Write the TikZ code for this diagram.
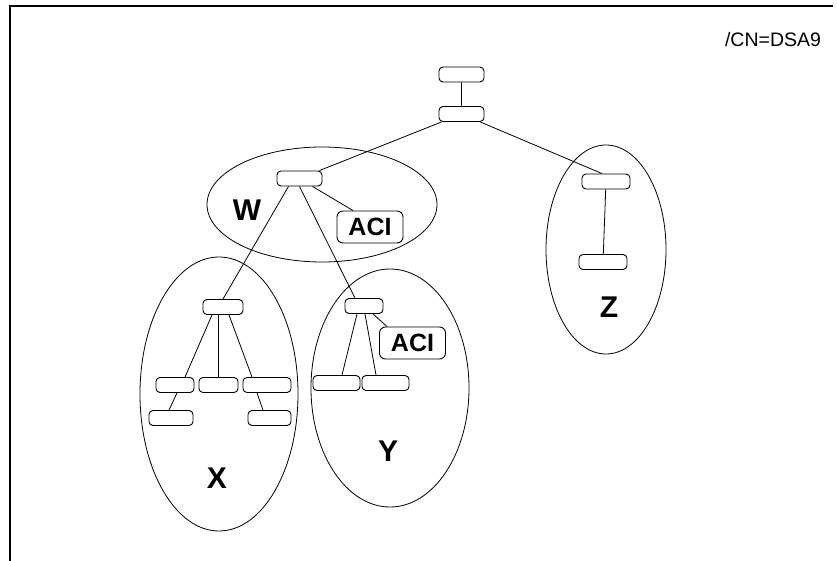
\documentclass[tikz,border=0pt]{standalone}
\usepackage{fontspec}
\setmainfont{Liberation Sans}
\usetikzlibrary{shapes.geometric}
\tikzset{entry/.style={draw,rounded corners=4pt,minimum height=15pt,inner sep=0pt,line width=0.9pt},
  aci/.style={draw,rounded corners=6pt,minimum width=66pt,minimum height=32pt,inner sep=0pt,line width=0.9pt,font=\fontsize{25}{25}\selectfont\bfseries},
  group/.style={draw,ellipse,inner sep=0pt,line width=0.8pt},
  grouplabel/.style={inner sep=0pt,font=\fontsize{30}{30}\selectfont\bfseries},
  link/.style={line width=0.8pt}}

\begin{document}
\begin{tikzpicture}[x=1pt,y=-1pt]
        \useasboundingbox (0,0) rectangle (837,561);
        \draw[line width=2pt] (10,561) -- (10,6) -- (833,6);
        \node[font=\fontsize{19.5}{20}\selectfont,inner sep=0pt] (cn) at (773,40) {/CN=DSA9};
        % naming contexts
        \node[group, minimum width=230pt, minimum height=115pt] (gw) at (322,204.5) {};
        \node[group, minimum width=158pt, minimum height=274pt] (gx) at (219,394) {};
        \node[group, minimum width=158pt, minimum height=238pt] (gy) at (390,388) {};
        \node[group, minimum width=120pt, minimum height=209pt] (gz) at (606,249.5) {};
        \node[grouplabel] (lw) at (247,210) {W};
        \node[grouplabel] (lx) at (217,478) {X};
        \node[grouplabel] (ly) at (388,451) {Y};
        \node[grouplabel] (lz) at (609,307) {Z};
        % entries
        \node[entry, minimum width=45pt] (n1) at (461.5,74.5) {};
        \node[entry, minimum width=45pt] (n2) at (461.5,114) {};
        \node[entry, minimum width=45pt] (wr) at (299.5,178.5) {};
        \node[aci] (aciw) at (370,227) {ACI};
        \node[entry, minimum width=48pt] (z1) at (606,181.5) {};
        \node[entry, minimum width=48pt] (z2) at (603,262) {};
        \node[entry, minimum width=40pt] (xr) at (223,307) {};
        \node[entry, minimum width=38pt] (x1) at (175,385) {};
        \node[entry, minimum width=39pt] (x2) at (218.5,385) {};
        \node[entry, minimum width=48pt] (x3) at (267,385) {};
        \node[entry, minimum width=44pt] (x1a) at (171,418) {};
        \node[entry, minimum width=43pt] (x3a) at (269.5,418) {};
        \node[entry, minimum width=38pt] (yr) at (364,306) {};
        \node[aci] (aciy) at (412.5,343) {ACI};
        \node[entry, minimum width=47pt] (y1) at (336.5,383) {};
        \node[entry, minimum width=47pt] (y2) at (385.5,383) {};
        % links
        \draw[link] (n1) -- (n2)
        (n2) -- (wr)
        (n2) -- ([xshift=-4pt]z1.north)
        (z1) -- (z2)
        ([xshift=13pt]wr.south) -- ([xshift=-17pt]aciw.north)
        ([xshift=-11pt]wr.south) -- (xr.north)
        (wr.south) -- ([xshift=-9pt]yr.north)
        ([xshift=-11pt]xr.south) -- ([xshift=10pt]x1.north)
        (x2.north) -- (x2.north |- xr.south)
        ([xshift=6pt]xr.south) -- ([xshift=-15pt]x3.north)
        ([xshift=2pt]x1.south) -- ([xshift=-2pt]x1a.north)
        ([xshift=-10pt]x3.south) -- ([xshift=-6.5pt]x3a.north)
        ([xshift=-7pt]yr.south) -- ([xshift=5.5pt]y1.north)
        ([xshift=1pt]yr.south) -- ([xshift=-9.5pt]y2.north)
        ([xshift=9pt]yr.south) -- ([xshift=-25.5pt]aciy.north);
    \end{tikzpicture}
\end{document}
